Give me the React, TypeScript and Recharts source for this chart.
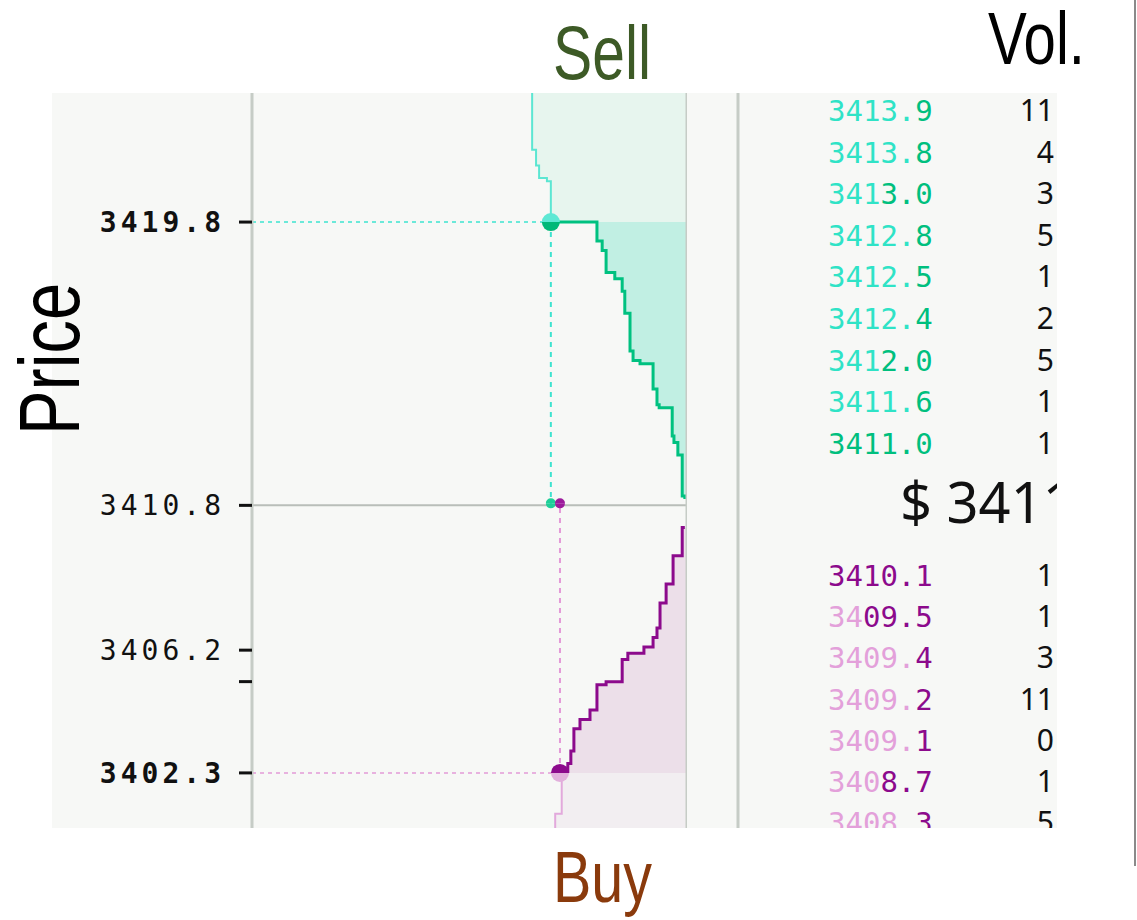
import { ComposedChart, Area, XAxis, YAxis, ReferenceLine, ReferenceDot } from 'recharts'

// cumulative depth (volume axis runs right to left)
const sellNearPrice = [3411.0, 3411.1, 3412.4, 3412.8, 3413.0, 3413.9, 3414.0, 3414.5, 3415.3, 3415.4, 3415.7, 3416.9, 3417.6, 3418.0, 3418.2, 3418.9, 3419.2, 3419.8]
const sellNearVol = [0.5, 1.1, 2.1, 3.0, 3.4, 6.4, 6.9, 7.8, 10.8, 12.4, 13.1, 14.3, 14.9, 16.6, 18.6, 19.5, 20.7, 31.3]
const sellFarPrice = [3419.8, 3421.1, 3421.2, 3421.6, 3422.1, 3423.9]
const sellFarVol = [31.3, 32.2, 34.0, 34.7, 35.6, 35.6]

const buyNearPrice = [3402.3, 3402.6, 3403.0, 3403.7, 3404.0, 3404.3, 3405.1, 3405.2, 3405.9, 3406.1, 3406.3, 3406.6, 3406.9, 3407.7, 3408.3, 3409.2, 3410.1, 3410.1]
const buyNearVol = [29.2, 27.4, 26.7, 26.0, 24.6, 22.3, 20.7, 18.6, 14.9, 13.6, 9.9, 7.8, 6.9, 6.2, 4.8, 3.2, 1.1, 0.5]
const buyFarPrice = [3400.55, 3401.0, 3402.3]
const buyFarVol = [30.3, 28.8, 28.8]

const midPrice = 3410.8
const bestAsk = { price: 3419.8, vol: 31.3 }
const bestBid = { price: 3402.3, vol: 29.2 }

const yTicks = [3402.3, 3405.2, 3406.2, 3410.8, 3419.8]
const yTickLabels = ['3402.3', '', '3406.2', '3410.8', '3419.8']
const boldTicks = [3402.3, 3419.8]

// order book
const askPrices = ['3413.9', '3413.8', '3413.0', '3412.8', '3412.5', '3412.4', '3412.0', '3411.6', '3411.0']
const askVols = ['11', '4', '3', '5', '1', '2', '5', '1', '1']
const bidPrices = ['3410.1', '3409.5', '3409.4', '3409.2', '3409.1', '3408.7', '3408.3']
const bidVols = ['1', '1', '3', '11', '0', '1', '5']
const lastPrice = '$ 3411.0'

const toRows = (p: number[], v: number[]) => p.map((price, i) => ({ price, vol: v[i] }))

const commonPrefix = (a: string, b: string) => {
  let i = 0
  while (i < a.length && a[i] === b[i]) i++
  return i
}

const MONO = '"DejaVu Sans Mono", monospace'
const SANS = '"Noto Sans", sans-serif'
const TITLE = '"Liberation Sans", Arial, sans-serif'

function PriceTick(props: any) {
  const { x, y, payload } = props
  const idx = yTicks.indexOf(payload.value)
  const label = idx >= 0 ? yTickLabels[idx] : ''
  if (!label) return null
  const bold = boldTicks.includes(payload.value)
  return (
    <text x={x} y={y} dy={10} textAnchor="end" fontFamily={MONO} fontSize={28}
      letterSpacing={4} fontWeight={bold ? 700 : 400} fill="#111">
      {label}
    </text>
  )
}

function HalfDot({ cx, cy, r, top, bottom }: any) {
  return (
    <g>
      <path d={`M${cx - r},${cy} A${r},${r} 0 0 1 ${cx + r},${cy} Z`} fill={top} />
      <path d={`M${cx - r},${cy} A${r},${r} 0 0 0 ${cx + r},${cy} Z`} fill={bottom} />
    </g>
  )
}

function BookPrice({ text, y, prefix, light, dark }: any) {
  return (
    <text x={88} y={y} fontFamily={MONO} fontSize={29}>
      <tspan fill={light}>{text.slice(0, prefix)}</tspan>
      <tspan fill={dark}>{text.slice(prefix)}</tspan>
    </text>
  )
}

export default function App() {
  const gray = '#c6ccc6'
  return (
    <div style={{ position: 'absolute', left: 0, top: 0, width: 1137, height: 920, background: '#fff' }}>
      <div style={{ position: 'absolute', left: 52, top: 93, width: 1005, height: 735, background: '#f7f8f6' }} />

      <div style={{ position: 'absolute', left: 52, top: 93 }}>
        <ComposedChart layout="vertical" width={635} height={735} margin={{ top: 0, right: 0, bottom: 0, left: 0 }}>
          <XAxis type="number" domain={[0, 100]} reversed hide allowDataOverflow />
          <YAxis type="number" dataKey="price" domain={[3400.55, 3423.9]} ticks={yTicks} interval={0}
            reversed allowDataOverflow width={200} tickSize={13} tickMargin={14}
            axisLine={{ stroke: gray, strokeWidth: 3 }} tickLine={{ stroke: '#111', strokeWidth: 3 }}
            tick={<PriceTick />} />

          <Area data={toRows(sellFarPrice, sellFarVol)} dataKey="vol" type="stepBefore" baseValue={0}
            stroke="#5ce6d2" strokeWidth={2} fill="#e7f5ee" fillOpacity={1} isAnimationActive={false} />
          <Area data={toRows(sellNearPrice, sellNearVol)} dataKey="vol" type="stepBefore" baseValue={0}
            stroke="#00c180" strokeWidth={3} fill="#c1efe3" fillOpacity={1} isAnimationActive={false} />
          <Area data={toRows(buyNearPrice, buyNearVol)} dataKey="vol" type="stepAfter" baseValue={0}
            stroke="#8c0a8c" strokeWidth={3} fill="#ecdfe9" fillOpacity={1} isAnimationActive={false} />
          <Area data={toRows(buyFarPrice, buyFarVol)} dataKey="vol" type="stepBefore" baseValue={0}
            stroke="#e2a9dc" strokeWidth={2} fill="#f2eef1" fillOpacity={1} isAnimationActive={false} />

          <ReferenceLine y={midPrice} stroke="#b9beb9" strokeWidth={2} />
          <ReferenceLine x={0} stroke={gray} strokeWidth={3} />

          <ReferenceLine segment={[{ x: 100, y: bestAsk.price }, { x: bestAsk.vol, y: bestAsk.price }]}
            stroke="#3ee3cf" strokeWidth={1.5} strokeDasharray="4 4" />
          <ReferenceLine segment={[{ x: bestAsk.vol, y: bestAsk.price }, { x: bestAsk.vol, y: midPrice }]}
            stroke="#3ee3cf" strokeWidth={2} strokeDasharray="5 5" />
          <ReferenceLine segment={[{ x: 100, y: bestBid.price }, { x: bestBid.vol, y: bestBid.price }]}
            stroke="#e49ad8" strokeWidth={1.5} strokeDasharray="4 4" />
          <ReferenceLine segment={[{ x: bestBid.vol, y: bestBid.price }, { x: bestBid.vol, y: midPrice }]}
            stroke="#e49ad8" strokeWidth={2} strokeDasharray="5 5" />

          <ReferenceDot x={bestAsk.vol} y={midPrice} r={5}
            shape={(p: any) => <HalfDot cx={p.cx} cy={p.cy - 2} r={5} top="#1fcf98" bottom="#1fcf98" />} />
          <ReferenceDot x={bestBid.vol} y={midPrice} r={5}
            shape={(p: any) => <HalfDot cx={p.cx} cy={p.cy - 2} r={5} top="#9c1a9c" bottom="#9c1a9c" />} />
          <ReferenceDot x={bestAsk.vol} y={bestAsk.price} r={9}
            shape={(p: any) => <HalfDot cx={p.cx} cy={p.cy} r={9} top="#5ee8d4" bottom="#00b878" />} />
          <ReferenceDot x={bestBid.vol} y={bestBid.price} r={9}
            shape={(p: any) => <HalfDot cx={p.cx} cy={p.cy} r={9} top="#8c0a8c" bottom="#e2b0dc" />} />
        </ComposedChart>
      </div>

      <svg width={317} height={735} style={{ position: 'absolute', left: 740, top: 93 }}>
        {askPrices.map((p, i) => {
          const y = 28 + 41.6 * i
          const prefix = i < askPrices.length - 1 ? commonPrefix(p, askPrices[i + 1]) : 0
          return (
            <g key={p}>
              <BookPrice text={p} y={y} prefix={prefix} light="#2fe3c6" dark="#00bf7e" />
              <text x={314} y={y} textAnchor="end" fontFamily={SANS} fontSize={30} fill="#111">{askVols[i]}</text>
            </g>
          )
        })}
        <text x={160} y={430} fontFamily={SANS} fontSize={56} fill="#111">{lastPrice}</text>
        {bidPrices.map((p, i) => {
          const y = 493 + 41.2 * i
          const prefix = i > 0 ? commonPrefix(p, bidPrices[i - 1]) : 0
          return (
            <g key={p}>
              <BookPrice text={p} y={y} prefix={prefix} light="#e3a0da" dark="#8c0a8c" />
              <text x={314} y={y} textAnchor="end" fontFamily={SANS} fontSize={30} fill="#111">{bidVols[i]}</text>
            </g>
          )
        })}
      </svg>

      <svg width={1137} height={920} style={{ position: 'absolute', left: 0, top: 0, pointerEvents: 'none' }}>
        <line x1={738} y1={93} x2={738} y2={828} stroke={gray} strokeWidth={3} />
        <line x1={1135} y1={0} x2={1135} y2={866} stroke="#8a8a8a" strokeWidth={2} />
        <text x={553} y={79} textLength={98} lengthAdjust="spacingAndGlyphs" fontFamily={TITLE}
          fontSize={76} fill="#3d5a26">Sell</text>
        <text x={988} y={64} textLength={97} lengthAdjust="spacingAndGlyphs" fontFamily={TITLE}
          fontSize={75} fill="#000">Vol.</text>
        <text x={553} y={902} textLength={99} lengthAdjust="spacingAndGlyphs" fontFamily={TITLE}
          fontSize={72} fill="#8a3a0c">Buy</text>
        <text x={79} y={435} textLength={152} lengthAdjust="spacingAndGlyphs" fontFamily={TITLE}
          fontSize={86} fill="#000" transform="rotate(-90 79 435)">Price</text>
      </svg>
    </div>
  )
}
